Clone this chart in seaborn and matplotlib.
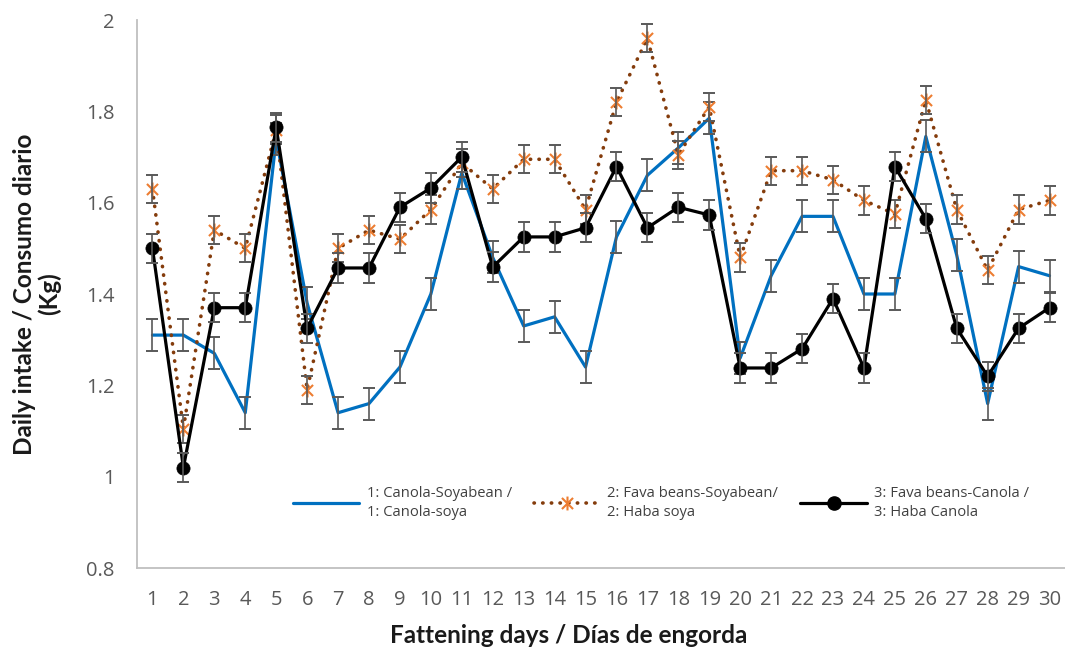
import numpy as np
import pandas as pd
import seaborn as sns
import matplotlib
matplotlib.use("Agg")
import matplotlib.pyplot as plt
from matplotlib.path import Path
from matplotlib.lines import Line2D

days = [1, 2, 3, 4, 5, 6, 7, 8, 9, 10, 11, 12, 13, 14, 15,
        16, 17, 18, 19, 20, 21, 22, 23, 24, 25, 26, 27, 28, 29, 30]

canola_soy = [1.31, 1.31, 1.27, 1.14, 1.74, 1.38, 1.14, 1.16, 1.24, 1.40,
              1.665, 1.48, 1.33, 1.35, 1.24, 1.525, 1.66, 1.72, 1.785, 1.26,
              1.44, 1.57, 1.57, 1.40, 1.40, 1.745, 1.485, 1.16, 1.46, 1.44]
fava_soy = [1.63, 1.105, 1.54, 1.50, 1.76, 1.19, 1.50, 1.54, 1.52, 1.585,
            1.687, 1.63, 1.695, 1.695, 1.585, 1.82, 1.96, 1.705, 1.81, 1.48,
            1.67, 1.67, 1.65, 1.605, 1.575, 1.825, 1.585, 1.452, 1.585, 1.605]
fava_canola = [1.50, 1.02, 1.37, 1.37, 1.765, 1.325, 1.457, 1.457, 1.59, 1.632,
               1.70, 1.459, 1.525, 1.525, 1.545, 1.679, 1.545, 1.59, 1.573, 1.238,
               1.238, 1.28, 1.39, 1.238, 1.679, 1.565, 1.325, 1.22, 1.325, 1.37]

err_canola_soy = 0.035
err_fava_soy = 0.031
err_fava_canola = 0.032

labels = ["1: Canola-Soyabean /\n1: Canola-soya",
          "2: Fava beans-Soyabean/\n2: Haba soya",
          "3: Fava beans-Canola /\n3: Haba Canola"]

yticks = [0.8, 1.0, 1.2, 1.4, 1.6, 1.8, 2.0]
ytick_labels = ["0.8", "1", "1.2", "1.4", "1.6", "1.8", "2"]

df = pd.DataFrame({"day": days, "s1": canola_soy, "s2": fava_soy, "s3": fava_canola})

sns.set_style("white")
plt.rcParams["font.family"] = ["Open Sans", "DejaVu Sans"]

# Excel style star: an X with a vertical bar through it
star = Path([(-1, -1), (1, 1), (-1, 1), (1, -1), (0, -1.25), (0, 1.25)],
            [Path.MOVETO, Path.LINETO, Path.MOVETO, Path.LINETO, Path.MOVETO, Path.LINETO])

fig = plt.figure(figsize=(10.65, 6.5), dpi=100)
ax = fig.add_axes([137 / 1065, 82 / 650, 928 / 1065, 548 / 650])

ecol = "#595959"
blue = "#0070C0"
brown = "#843C0C"
orange = "#ED7D31"

sns.lineplot(data=df, x="day", y="s1", ax=ax, color=blue, lw=2.3, errorbar=None, zorder=2)
ax.errorbar(days, canola_soy, yerr=err_canola_soy, fmt="none", ecolor=ecol,
            elinewidth=1.2, capsize=4, capthick=1.4, zorder=2.5)

sns.lineplot(data=df, x="day", y="s2", ax=ax, color=brown, lw=2.6,
             linestyle=(0, (0.1, 2.3)), dash_capstyle="round",
             marker=star, markersize=10, markerfacecolor="none",
             markeredgecolor=orange, markeredgewidth=1.5, errorbar=None, zorder=3)
ax.errorbar(days, fava_soy, yerr=err_fava_soy, fmt="none", ecolor=ecol,
            elinewidth=1.2, capsize=4, capthick=1.4, zorder=3.5)

sns.lineplot(data=df, x="day", y="s3", ax=ax, color="black", lw=2.3,
             marker="o", markersize=9.5, markeredgecolor="black",
             markeredgewidth=0.5, errorbar=None, zorder=4)
ax.errorbar(days, fava_canola, yerr=err_fava_canola, fmt="none", ecolor=ecol,
            elinewidth=1.2, capsize=4, capthick=1.4, zorder=4.5)

ax.set_xlim(0.5, 30.5)
ax.set_ylim(0.8, 2.0)
ax.set_xticks(days)
ax.set_yticks(yticks)
ax.set_yticklabels(ytick_labels)
ax.tick_params(axis="both", length=0, labelsize=14.5, labelcolor="#595959")
ax.tick_params(axis="x", pad=16)
ax.tick_params(axis="y", pad=16)

for side in ["top", "right"]:
    ax.spines[side].set_visible(False)
for side in ["left", "bottom"]:
    ax.spines[side].set_color("#BFBFBF")
    ax.spines[side].set_linewidth(1.3)

ax.set_xlabel("Fattening days / Días de engorda", fontsize=17.5, fontweight="bold",
              color="#1a1a1a", family=["Lato", "DejaVu Sans"])
ax.xaxis.set_label_coords(0.4655, -0.102)
ax.set_ylabel("Daily intake / Consumo diario\n(Kg)", fontsize=17.5, fontweight="bold",
              color="#1a1a1a", family=["Lato", "DejaVu Sans"], linespacing=1.05)
ax.yaxis.set_label_coords(-0.082, 0.5)

handles = [
    Line2D([], [], color=blue, lw=2.3),
    Line2D([], [], color=brown, lw=2.6, linestyle=(0, (0.1, 2.3)), dash_capstyle="round",
           marker=star, markersize=10, markerfacecolor="none",
           markeredgecolor=orange, markeredgewidth=1.5),
    Line2D([], [], color="black", lw=2.3, marker="o", markersize=9.5),
]
leg = fig.legend(handles, labels, loc="center left", bbox_to_anchor=(293 / 1065, 147 / 650),
                 ncol=3, frameon=False, fontsize=10.6, handlelength=4.5, handletextpad=0.5,
                 columnspacing=1.5, borderpad=0, borderaxespad=0, numpoints=1)
for t in leg.get_texts():
    t.set_color("#404040")
    t.set_linespacing(1.3)

fig.savefig("out.png", dpi=100)
